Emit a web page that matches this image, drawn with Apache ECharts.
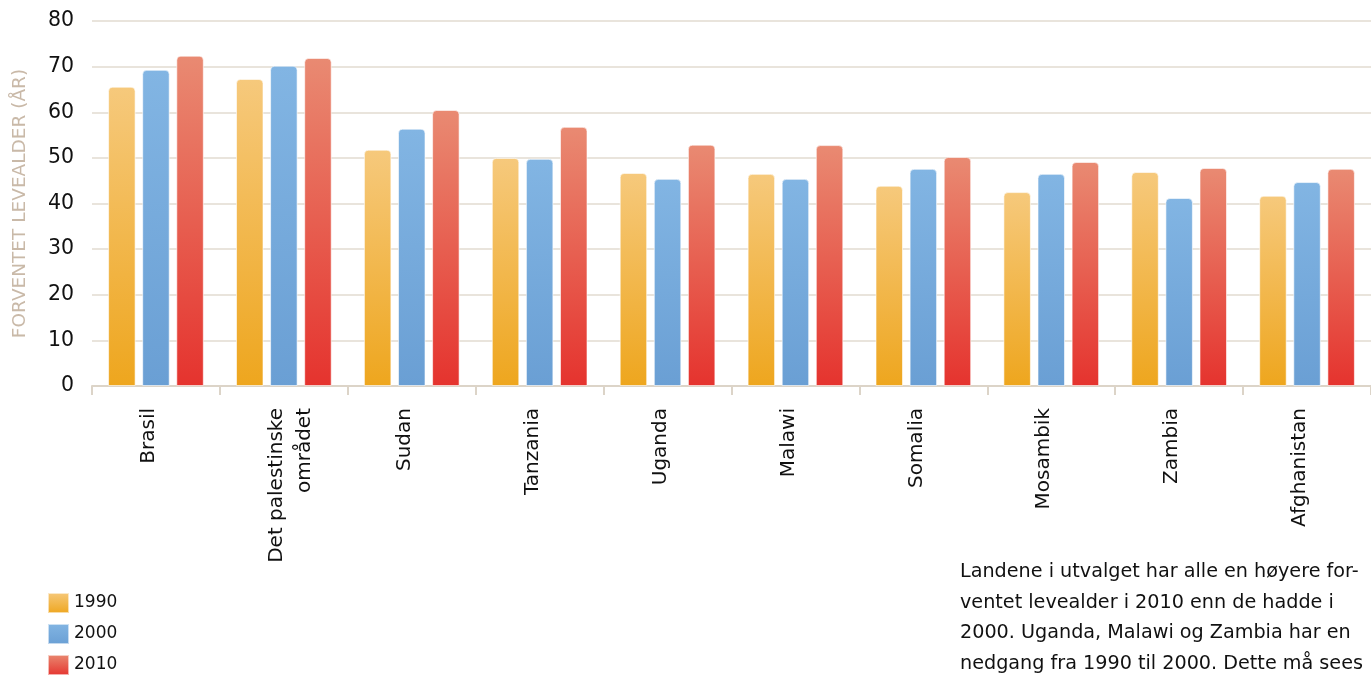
<!DOCTYPE html>
<html><head><meta charset="utf-8">
<script src="https://cdn.jsdelivr.net/npm/echarts@6/dist/echarts.min.js"></script>
<style>html,body{margin:0;padding:0;background:#fff;}#c{width:1371px;height:677px;}</style>
</head><body><div id="c"></div>
<script>
const categories = ['Brasil','Det palestinske\nområdet','Sudan','Tanzania','Uganda','Malawi','Somalia','Mosambik','Zambia','Afghanistan'];
const seriesNames = ['1990','2000','2010'];
const values1990 = [65.6, 67.3, 51.8, 50.0, 46.7, 46.5, 43.9, 42.5, 46.9, 41.7];
const values2000 = [69.3, 70.2, 56.4, 49.8, 45.4, 45.4, 47.6, 46.5, 41.2, 44.7];
const values2010 = [72.4, 71.9, 60.5, 56.8, 52.9, 52.8, 50.2, 49.1, 47.8, 47.6];
const yAxisName = 'FORVENTET LEVEALDER (ÅR)';
const noteLines = [
  'Landene i utvalget har alle en høyere for-',
  'ventet levealder i 2010 enn de hadde i',
  '2000. Uganda, Malawi og Zambia har en',
  'nedgang fra 1990 til 2000. Dette må sees'
];

const FONT = '"DejaVu Sans", "Liberation Sans", sans-serif';
function grad(top, bottom){
  return new echarts.graphic.LinearGradient(0,0,0,1,[{offset:0,color:top},{offset:1,color:bottom}]);
}
const colors = [grad('#f6c97c','#eea61e'), grad('#82b5e3','#6a9fd4'), grad('#e98a72','#e5332e')];
const data = [values1990, values2000, values2010];

// label layout: first line's baseline sits on the category centre
function labelFmt(v){
  const parts = v.split('\n');
  if (parts.length === 1) return v + '\n';
  return '\n' + parts.join('\n\n');
}

const chart = echarts.init(document.getElementById('c'), null, {renderer:'canvas'});
chart.setOption({
  animation:false,
  textStyle:{fontFamily:FONT},
  grid:{left:92, right:-6, top:21, bottom:291, containLabel:false},
  legend: seriesNames.map((n,i)=>({
    orient:'vertical', left:47, top:592 + i*31, padding:0, itemWidth:21, itemHeight:20,
    icon:'rect',
    textStyle:{fontSize:17, color:'#111', fontFamily:FONT},
    data:[n]
  })),
  xAxis:{
    type:'category', data:categories,
    axisLine:{lineStyle:{color:'#dcd4c8', width:2}},
    axisTick:{show:true, length:9, lineStyle:{color:'#dcd4c8', width:2}},
    axisLabel:{rotate:90, fontSize:20, color:'#111', margin:22, fontFamily:FONT,
      lineHeight:14, align:'right', verticalAlign:'middle', formatter: labelFmt}
  },
  yAxis:{
    type:'value', min:0, max:80, interval:10,
    name:yAxisName, nameLocation:'middle', nameGap:62, nameRotate:90,
    nameTextStyle:{color:'#c9b9a8', fontSize:18.5, fontFamily:FONT},
    axisLine:{show:false}, axisTick:{show:false},
    axisLabel:{fontSize:20.5, color:'#111', margin:18, fontFamily:FONT},
    splitLine:{lineStyle:{color:'#e2dbd0', width:1.5}}
  },
  series: seriesNames.map((n,i)=>({
    name:n, type:'bar', data:data[i],
    barWidth:27.5, barGap:'24%',
    itemStyle:{color:colors[i], borderRadius:[4,4,0,0], borderColor:'rgba(255,255,255,0.6)', borderWidth:1}
  })),
  graphic: noteLines.map((t,k)=>({
    type:'text', left:960, top:563 + k*30.4,
    style:{text:t, fontSize:19.2, fill:'#111', fontFamily:FONT}
  }))
});
</script></body></html>
